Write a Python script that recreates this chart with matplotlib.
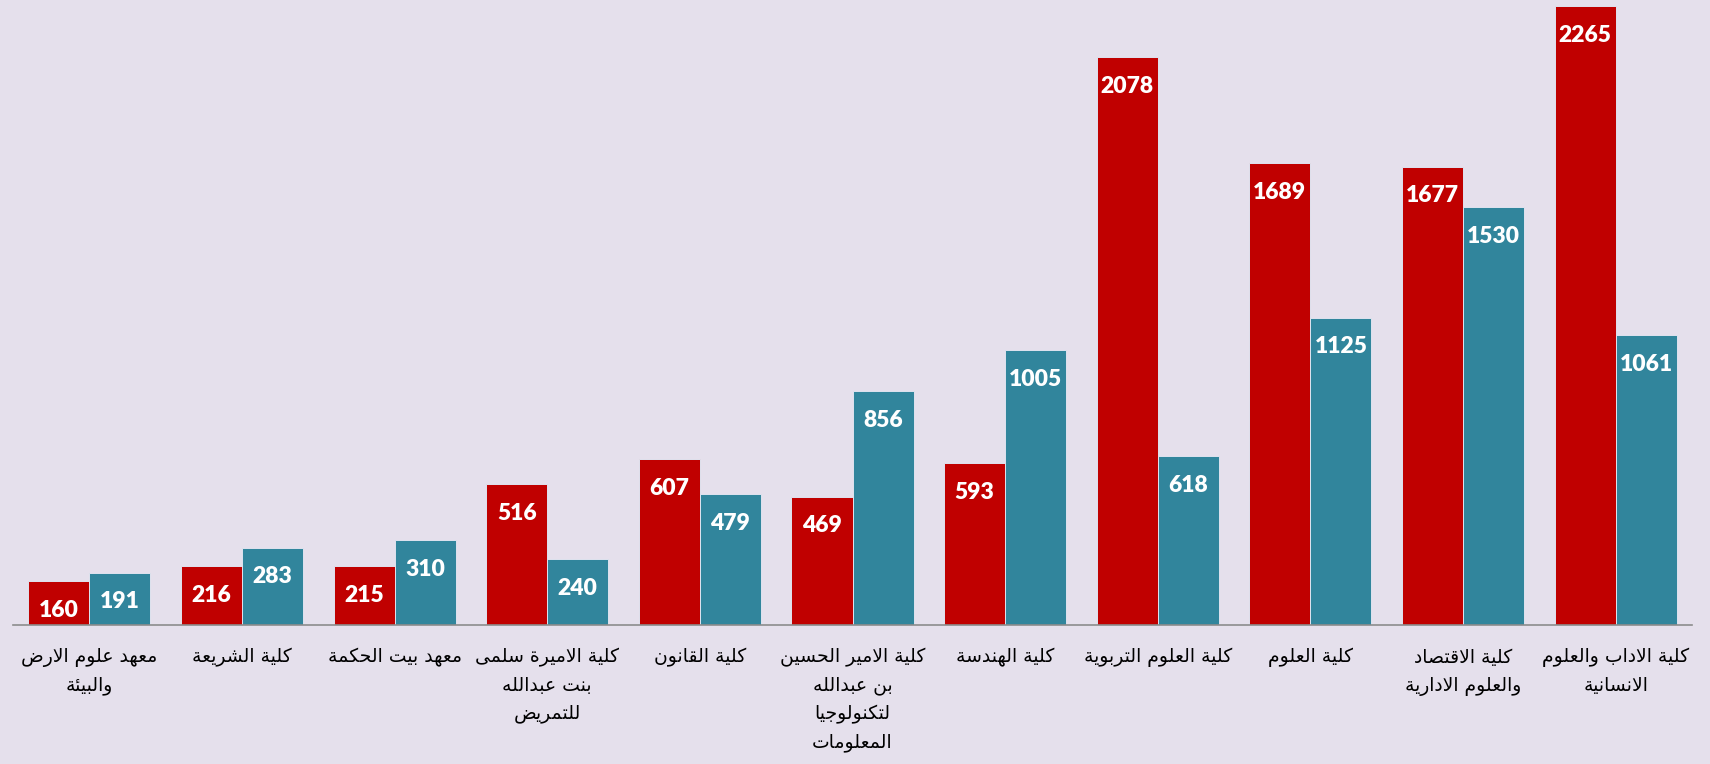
import matplotlib
matplotlib.use("Agg")
import matplotlib.pyplot as plt
import numpy as np

categories = [
    "معهد علوم الارض\nوالبيئة",
    "كلية الشريعة",
    "معهد بيت الحكمة",
    "كلية الاميرة سلمى\nبنت عبدالله\nللتمريض",
    "كلية القانون",
    "كلية الامير الحسين\nبن عبدالله\nلتكنولوجيا\nالمعلومات",
    "كلية الهندسة",
    "كلية العلوم التربوية",
    "كلية العلوم",
    "كلية الاقتصاد\nوالعلوم الادارية",
    "كلية الاداب والعلوم\nالانسانية",
]
series_red = [160, 216, 215, 516, 607, 469, 593, 2078, 1689, 1677, 2265]
series_blue = [191, 283, 310, 240, 479, 856, 1005, 618, 1125, 1530, 1061]

# ---- minimal Arabic shaping (presentation forms) + RTL reversal ----
DUAL = {
    'ئ': 0xFE89, 'ب': 0xFE8F, 'ت': 0xFE95, 'ث': 0xFE99, 'ج': 0xFE9D, 'ح': 0xFEA1,
    'خ': 0xFEA5, 'س': 0xFEB1, 'ش': 0xFEB5, 'ص': 0xFEB9, 'ض': 0xFEBD, 'ط': 0xFEC1,
    'ظ': 0xFEC5, 'ع': 0xFEC9, 'غ': 0xFECD, 'ف': 0xFED1, 'ق': 0xFED5, 'ك': 0xFED9,
    'ل': 0xFEDD, 'م': 0xFEE1, 'ن': 0xFEE5, 'ه': 0xFEE9, 'ي': 0xFEF1,
}
RIGHT = {
    'آ': 0xFE81, 'أ': 0xFE83, 'ؤ': 0xFE85, 'إ': 0xFE87, 'ا': 0xFE8D, 'ة': 0xFE93,
    'د': 0xFEA9, 'ذ': 0xFEAB, 'ر': 0xFEAD, 'ز': 0xFEAF, 'و': 0xFEED, 'ى': 0xFEEF,
}
LAMALEF = {'آ': 0xFEF5, 'أ': 0xFEF7, 'إ': 0xFEF9, 'ا': 0xFEFB}


def shape_line(s):
    toks = []
    i = 0
    while i < len(s):
        c = s[i]
        if c == 'ل' and i + 1 < len(s) and s[i + 1] in LAMALEF:
            toks.append(('LA', s[i + 1]))
            i += 2
        else:
            toks.append(('C', c))
            i += 1

    def joins_next(t):
        return t[0] == 'C' and t[1] in DUAL

    def is_letter(t):
        return t[0] == 'LA' or t[1] in DUAL or t[1] in RIGHT

    out = []
    for k, t in enumerate(toks):
        prev_c = k > 0 and joins_next(toks[k - 1])
        next_c = k + 1 < len(toks) and is_letter(toks[k + 1])
        if t[0] == 'LA':
            out.append(chr(LAMALEF[t[1]] + (1 if prev_c else 0)))
        elif t[1] in DUAL:
            base = DUAL[t[1]]
            if prev_c and next_c:
                off = 3
            elif prev_c:
                off = 1
            elif next_c:
                off = 2
            else:
                off = 0
            out.append(chr(base + off))
        elif t[1] in RIGHT:
            out.append(chr(RIGHT[t[1]] + (1 if prev_c else 0)))
        else:
            out.append(t[1])
    return ''.join(out)[::-1]


def shape(text):
    return '\n'.join(shape_line(l) for l in text.split('\n'))


BG = '#E5E0EC'
RED = '#C00000'
BLUE = '#31859C'

fig = plt.figure(figsize=(17.10, 7.64), dpi=100, facecolor=BG)
W, H = 1710, 764
ax = fig.add_axes([13 / W, 139 / H, (1692 - 13) / W, 625 / H])
ax.set_facecolor(BG)

x = np.arange(len(categories))
bw = 0.4
b1 = ax.bar(x - bw / 2, series_red, bw, color=RED, edgecolor='#dfe3ef', linewidth=0.7)
b2 = ax.bar(x + bw / 2, series_blue, bw, color=BLUE, edgecolor='#dfe3ef', linewidth=0.7)

ax.set_xlim(-0.5, len(categories) - 0.5)
ax.set_ylim(0, 2287)

for bars, vals in ((b1, series_red), (b2, series_blue)):
    for b, v in zip(bars, vals):
        ax.annotate(str(v), (b.get_x() + b.get_width() / 2, v),
                    xytext=(0, -21), textcoords='offset points',
                    ha='center', va='center', color='white',
                    fontsize=16.5, fontweight='heavy', family='Lato')

for sp in ('top', 'right', 'left'):
    ax.spines[sp].set_visible(False)
ax.spines['bottom'].set_color('#8c8c8c')
ax.spines['bottom'].set_linewidth(1.2)
ax.set_yticks([])
ax.set_xticks(x)
ax.set_xticklabels([shape(c) for c in categories], fontsize=13.5,
                   family='DejaVu Sans', color='black', linespacing=1.58)
ax.tick_params(axis='x', length=0, pad=16.5)

fig.savefig('out.png', dpi=100, facecolor=BG)
